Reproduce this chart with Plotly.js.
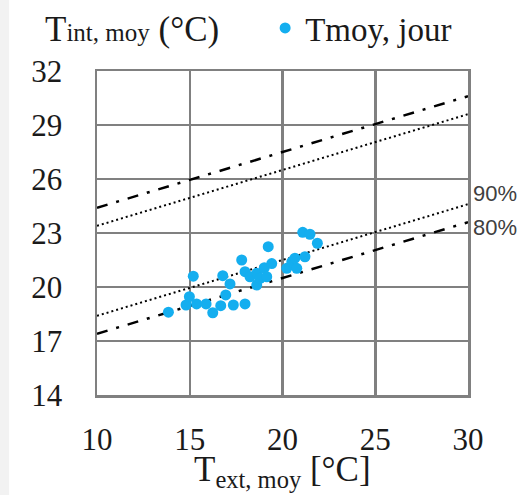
<!DOCTYPE html>
<html>
<head>
<meta charset="utf-8">
<script src="https://cdn.plot.ly/plotly-3.0.1.min.js"></script>
<style>html,body{margin:0;padding:0;background:#fff;}#chart{width:525px;height:495px;}</style>
</head>
<body>
<div id="chart"></div>
<script>
// Daily mean points: outdoor mean temperature vs indoor mean temperature
const tExt = [13.85, 14.8, 14.98, 15.19, 15.37, 15.88, 16.24, 16.67, 16.78, 16.94,
              17.17, 17.35, 17.8, 17.98, 17.98, 18.25, 18.61, 18.61, 18.79, 19.02,
              19.15, 19.23, 19.42, 20.23, 20.5, 20.67, 20.77, 21.21, 21.09, 21.48, 21.88];
const tInt = [18.6, 19.0, 19.46, 20.6, 19.06, 19.06, 18.57, 18.96, 20.63, 19.56,
              20.17, 19.0, 21.5, 20.85, 19.06, 20.57, 20.76, 20.11, 20.48, 21.07,
              20.57, 22.24, 21.3, 21.04, 21.4, 21.6, 21.04, 21.68, 23.04, 22.93, 22.43];

// Comfort band limits (endpoints at x = 10 and x = 30)
const bandX = [10, 30];
const upper80 = [24.4, 30.6];
const upper90 = [23.4, 29.6];
const lower90 = [18.4, 24.6];
const lower80 = [17.4, 23.6];

const xTicks = [10, 15, 20, 25, 30];
const yTicks = [14, 17, 20, 23, 26, 29, 32];

const serif = '"Liberation Serif", "DejaVu Serif", serif';
const dashDot = '11px,9px,3px,9px';
const ink = '#1a1a1a';

const traces = [
  {x: bandX, y: upper80, mode: 'lines', line: {color: '#000', width: 2.5, dash: dashDot}, showlegend: false, hoverinfo: 'skip'},
  {x: bandX, y: upper90, mode: 'lines', line: {color: '#000', width: 2, dash: '2px,3px'}, showlegend: false, hoverinfo: 'skip'},
  {x: bandX, y: lower90, mode: 'lines', line: {color: '#000', width: 2, dash: '2px,3px'}, showlegend: false, hoverinfo: 'skip'},
  {x: bandX, y: lower80, mode: 'lines', line: {color: '#000', width: 2.5, dash: dashDot}, showlegend: false, hoverinfo: 'skip'},
  {x: tExt, y: tInt, mode: 'markers', name: 'Tmoy, jour',
   marker: {color: '#14aeef', size: 11}}
];

const layout = {
  width: 525, height: 495,
  margin: {l: 97, r: 57, t: 71, b: 100, autoexpand: false},
  paper_bgcolor: '#fff', plot_bgcolor: '#fff',
  font: {family: serif, size: 31, color: ink},
  xaxis: {
    range: [10, 30], tickvals: xTicks, ticktext: xTicks.map(String),
    showgrid: true, gridcolor: '#808080', gridwidth: 2.5,
    showline: true, linecolor: '#808080', linewidth: 2.5, mirror: true,
    zeroline: false, ticks: '', ticklabelstandoff: 15, automargin: false,
    tickfont: {family: serif, size: 31, color: ink}
  },
  yaxis: {
    range: [14, 32], tickvals: yTicks, ticktext: yTicks.map(String),
    showgrid: true, gridcolor: '#808080', gridwidth: 2.5,
    showline: true, linecolor: '#808080', linewidth: 2.5, mirror: true,
    zeroline: false, ticks: '', ticklabelstandoff: 26, automargin: false,
    tickfont: {family: serif, size: 31, color: ink}
  },
  showlegend: true,
  legend: {
    xref: 'container', yref: 'container', x: 0.505, y: 1.0, xanchor: 'left', yanchor: 'top',
    bgcolor: 'rgba(0,0,0,0)', font: {family: serif, size: 33, color: ink},
    itemsizing: 'trace'
  },
  annotations: [
    {xref: 'paper', yref: 'paper', x: -0.1456, y: 1.1296, xanchor: 'left', yanchor: 'middle',
     text: 'T<span style="font-size:25px">int, moy</span> (°C)', showarrow: false,
     font: {family: serif, size: 35, color: ink}},
    {xref: 'paper', yref: 'paper', x: 0.5, y: -0.2346, xanchor: 'center', yanchor: 'middle',
     text: 'T<sub>ext, moy</sub> [°C]', showarrow: false,
     font: {family: serif, size: 35, color: ink}},
    {xref: 'x', yref: 'y', x: 30, y: 25.2, xanchor: 'left', yanchor: 'middle', xshift: 3,
     text: '90%', showarrow: false, font: {family: '"Liberation Sans", Arial, sans-serif', size: 22, color: '#404040'}},
    {xref: 'x', yref: 'y', x: 30, y: 23.33, xanchor: 'left', yanchor: 'middle', xshift: 3,
     text: '80%', showarrow: false, font: {family: '"Liberation Sans", Arial, sans-serif', size: 22, color: '#404040'}}
  ],
  shapes: [
    {type: 'rect', xref: 'paper', yref: 'paper', x0: -0.2615, x1: -0.237, y0: -0.31, y1: 1.22, layer: 'below',
     fillcolor: '#f2f2f2', line: {width: 0}}
  ]
};

Plotly.newPlot('chart', traces, layout, {displayModeBar: false, staticPlot: true});
</script>
</body>
</html>
